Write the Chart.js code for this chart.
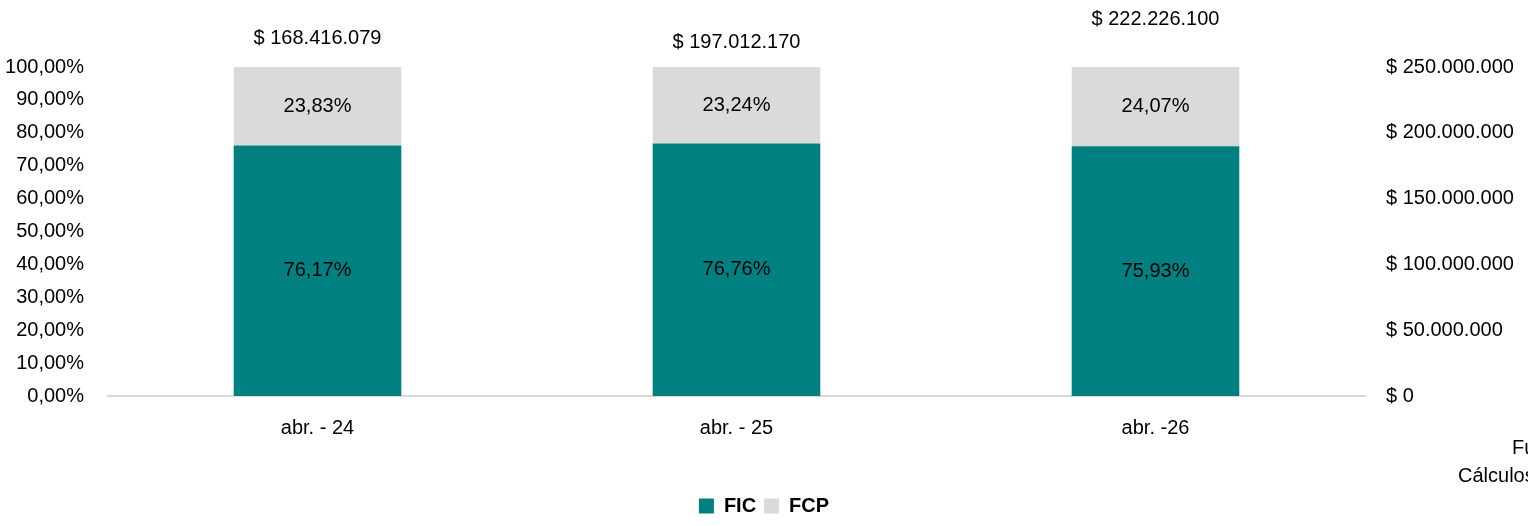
<!DOCTYPE html>
<html>
<head>
<meta charset="utf-8">
<script src="https://cdn.jsdelivr.net/npm/chart.js@4.4.0/dist/chart.umd.min.js"></script>
<style>
  html, body { margin: 0; padding: 0; background: #fff; }
  #wrap { width: 1528px; height: 526px; }
</style>
</head>
<body>
<div id="wrap"><canvas id="fondosChart"></canvas></div>
<script>
// datos
const periodos = ['abr. - 24', 'abr. - 25', 'abr. -26'];
const ficPct = [76.17, 76.76, 75.93];
const fcpPct = [23.83, 23.24, 24.07];
const totales = [168416079, 197012170, 222226100];
const fuenteLineas = ['Fuente: Superintendencia Financiera', 'Cálculos propios'];

const FONT = '"Liberation Sans Narrow", "Arial Narrow", "Liberation Sans", Arial, sans-serif';
const totalLift = [29, 25, 48]; // la etiqueta de total no esta a la misma altura en el original

function puntos(n) {
    return String(n).replace(/\B(?=(\d{3})+(?!\d))/g, '.');
}
function pct(v) {
    return v.toFixed(2).replace('.', ',') + '%';
}

const etiquetasPlugin = {
    id: 'etiquetas',
    afterDatasetsDraw(chart) {
        const ctx = chart.ctx;
        ctx.save();
        ctx.font = '20px ' + FONT;
        ctx.fillStyle = '#000';
        ctx.textAlign = 'center';
        ctx.textBaseline = 'middle';
        chart.data.datasets.forEach((ds, i) => {
            const meta = chart.getDatasetMeta(i);
            meta.data.forEach((bar, j) => {
                const p = bar.getProps(['x', 'y', 'base'], true);
                ctx.fillText(pct(ds.data[j]), p.x, (p.y + p.base) / 2);
            });
        });
        // totales arriba de cada barra
        const top = chart.scales.y.getPixelForValue(100);
        const meta0 = chart.getDatasetMeta(0);
        meta0.data.forEach((bar, j) => {
            ctx.fillText('$ ' + puntos(totales[j]), bar.x, top - totalLift[j]);
        });
        // fuente (cortada en el borde derecho)
        ctx.textAlign = 'left';
        ctx.fillText(fuenteLineas[0], 1512, 448);
        ctx.fillText(fuenteLineas[1], 1458, 476);
        ctx.restore();
    }
};

new Chart(document.getElementById('fondosChart'), {
    type: 'bar',
    data: {
        labels: periodos,
        datasets: [
            { label: 'FIC', data: ficPct, backgroundColor: '#008080', yAxisID: 'y' },
            { label: 'FCP', data: fcpPct, backgroundColor: '#dadada', yAxisID: 'y' }
        ]
    },
    options: {
        responsive: true,
        maintainAspectRatio: false,
        animation: false,
        categoryPercentage: 1,
        barPercentage: 0.4,
        layout: { padding: { top: 67, left: 0, right: 0, bottom: 0 } },
        plugins: {
            legend: {
                position: 'bottom',
                labels: {
                    boxWidth: 15,
                    boxHeight: 15,
                    padding: 8,
                    color: '#000',
                    font: { family: FONT, size: 20, weight: 'bold' }
                }
            },
            tooltip: { enabled: false }
        },
        scales: {
            x: {
                stacked: true,
                grid: { display: false },
                border: { display: true, color: '#d9d9d9', width: 2 },
                ticks: { color: '#000', padding: 12, font: { family: FONT, size: 20 } },
                afterFit(scale) { scale.height = 92; }
            },
            y: {
                stacked: true,
                position: 'left',
                min: 0,
                max: 100,
                grid: { display: false },
                border: { display: false },
                ticks: {
                    stepSize: 10,
                    color: '#000',
                    padding: 16,
                    font: { family: FONT, size: 20 },
                    callback: v => pct(v)
                },
                afterFit(scale) { scale.width = 108; }
            },
            y2: {
                position: 'right',
                min: 0,
                max: 250000000,
                grid: { display: false },
                border: { display: false },
                ticks: {
                    stepSize: 50000000,
                    color: '#000',
                    padding: 13,
                    font: { family: FONT, size: 20 },
                    callback: v => '$ ' + puntos(v)
                },
                afterFit(scale) { scale.width = 163; }
            }
        }
    },
    plugins: [etiquetasPlugin]
});
</script>
</body>
</html>
